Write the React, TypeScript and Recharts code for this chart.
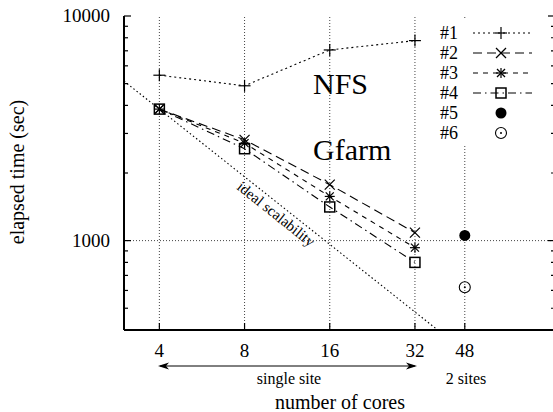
import React from 'react';
import { ComposedChart, Line, XAxis, YAxis, ReferenceLine, Legend, Customized } from 'recharts';

// number of cores on the x axis (log2 spaced)
const coreTicks = [4, 8, 16, 32, 48];
const singleSiteCores = [4, 8, 16, 32];
const twoSiteCores = [48];

// elapsed time (sec)
const nfsTimes = [5450, 4890, 7060, 7770];
const run2Times = [3850, 2810, 1775, 1085];
const run3Times = [3850, 2715, 1573, 930];
const run4Times = [3850, 2565, 1412, 800];
const run5Times = [1055];
const run6Times = [620];

// ideal scalability line
const idealCores = [3, 38.5];
const idealTimes = [5130, 400];

const timeTicks = [500, 600, 700, 800, 900, 1000, 2000, 3000, 4000, 5000, 6000, 7000, 8000, 9000, 10000];
const labelledTimes = [1000, 10000];

const FONT = '"Liberation Serif", "Times New Roman", serif';

type Shape = 'plus' | 'cross' | 'star' | 'square' | 'disc' | 'circleDot';

const series: { name: string; cores: number[]; times: number[]; dash: string | null; shape: Shape }[] = [
    { name: '#1', cores: singleSiteCores, times: nfsTimes, dash: '2 3', shape: 'plus' },
    { name: '#2', cores: singleSiteCores, times: run2Times, dash: '9 5', shape: 'cross' },
    { name: '#3', cores: singleSiteCores, times: run3Times, dash: '5 5', shape: 'star' },
    { name: '#4', cores: singleSiteCores, times: run4Times, dash: '8 4 1.5 4', shape: 'square' },
    { name: '#5', cores: twoSiteCores, times: run5Times, dash: null, shape: 'disc' },
    { name: '#6', cores: twoSiteCores, times: run6Times, dash: null, shape: 'circleDot' },
];

const toRows = (cores: number[], times: number[]) => cores.map((c, i) => ({ cores: c, time: times[i] }));

function Marker({ cx, cy, shape }: { cx: number; cy: number; shape: Shape }) {
    const s = 5;
    const st = { stroke: '#000', strokeWidth: 1.2 };
    switch (shape) {
        case 'plus':
            return <g><line x1={cx - s - 1} x2={cx + s + 1} y1={cy} y2={cy} {...st} /><line x1={cx} x2={cx} y1={cy - s - 1} y2={cy + s + 1} {...st} /></g>;
        case 'cross':
            return <g><line x1={cx - s} x2={cx + s} y1={cy - s} y2={cy + s} {...st} /><line x1={cx - s} x2={cx + s} y1={cy + s} y2={cy - s} {...st} /></g>;
        case 'star':
            return (
                <g>
                    <line x1={cx - s} x2={cx + s} y1={cy} y2={cy} {...st} />
                    <line x1={cx} x2={cx} y1={cy - s} y2={cy + s} {...st} />
                    <line x1={cx - 4} x2={cx + 4} y1={cy - 4} y2={cy + 4} {...st} />
                    <line x1={cx - 4} x2={cx + 4} y1={cy + 4} y2={cy - 4} {...st} />
                </g>
            );
        case 'square':
            return <rect x={cx - s} y={cy - s} width={2 * s} height={2 * s} fill="none" stroke="#000" strokeWidth={1.5} />;
        case 'disc':
            return <circle cx={cx} cy={cy} r={5.5} fill="#000" />;
        default:
            return <g><circle cx={cx} cy={cy} r={5.5} fill="none" stroke="#000" strokeWidth={1.1} /><circle cx={cx} cy={cy} r={1} fill="#000" /></g>;
    }
}

function LeftTick({ x, y, payload }: any) {
    const major = labelledTimes.includes(payload.value);
    return (
        <g>
            <line x1={x} x2={x + (major ? 7 : 4)} y1={y} y2={y} stroke="#000" strokeWidth={1.2} />
            {major && (
                <text x={x - 14} y={y} dy={6} textAnchor="end" fontFamily={FONT} fontSize={19} fill="#000">
                    {payload.value}
                </text>
            )}
        </g>
    );
}

function RightTick({ x, y, payload }: any) {
    const major = labelledTimes.includes(payload.value);
    return <line x1={x} x2={x - (major ? 7 : 4)} y1={y} y2={y} stroke="#000" strokeWidth={1.2} />;
}

function BottomTick({ x, y, payload }: any) {
    return (
        <g>
            <line x1={x} x2={x} y1={y} y2={y - 7} stroke="#000" strokeWidth={1.2} />
            <text x={x} y={y + 27} textAnchor="middle" fontFamily={FONT} fontSize={19} fill="#000">
                {payload.value}
            </text>
        </g>
    );
}

function TopTick({ x, y }: any) {
    return <line x1={x} x2={x} y1={y} y2={y + 7} stroke="#000" strokeWidth={1.2} />;
}

function LegendBox() {
    return (
        <svg width={118} height={124} style={{ display: 'block' }}>
            <rect width={118} height={124} fill="#fff" />
            {series.map((s, i) => {
                const y = 13 + 20 * i;
                return (
                    <g key={s.name}>
                        <text x={8} y={y + 6} fontFamily={FONT} fontSize={18} fill="#000">{s.name}</text>
                        {s.dash && <line x1={41} x2={100} y1={y} y2={y} stroke="#000" strokeWidth={1.1} strokeDasharray={s.dash} />}
                        <Marker cx={69} cy={y} shape={s.shape} />
                    </g>
                );
            })}
        </svg>
    );
}

function Annotations() {
    return (
        <g fontFamily={FONT} fill="#000">
            <text x={313} y={94} fontSize={30}>NFS</text>
            <text x={313} y={160} fontSize={30}>Gfarm</text>
            <text transform="translate(276,214) rotate(38.5)" textAnchor="middle" dy={5} fontSize={15}>ideal scalability</text>
            <line x1={160} x2={415} y1={366} y2={366} stroke="#000" strokeWidth={1} />
            <path d="M158 366 L169 362.5 L166 366 L169 369.5 Z" fill="#000" />
            <path d="M417 366 L406 362.5 L409 366 L406 369.5 Z" fill="#000" />
            <text x={289} y={384} textAnchor="middle" fontSize={16}>single site</text>
            <text x={466} y={384} textAnchor="middle" fontSize={16}>2 sites</text>
            <text x={340} y={409} textAnchor="middle" fontSize={20}>number of cores</text>
            <text transform="translate(24,172) rotate(-90)" textAnchor="middle" fontSize={20}>elapsed time (sec)</text>
        </g>
    );
}

export default function App() {
    const axisLine = { stroke: '#000', strokeWidth: 2 };
    return (
        <div style={{ position: 'absolute', left: 0, top: 0, width: 553, height: 412, overflow: 'hidden', background: '#fff' }}>
            <ComposedChart width={560} height={412} margin={{ top: 16, right: 0, bottom: 52, left: 0 }}>
                <XAxis
                    xAxisId="bottom" dataKey="cores" type="number" scale="log" domain={[3, 100]} allowDataOverflow
                    ticks={coreTicks} interval={0} tickSize={0} tickMargin={0} tickLine={false}
                    axisLine={axisLine} tick={<BottomTick />} height={30}
                />
                <XAxis
                    xAxisId="top" orientation="top" dataKey="cores" type="number" scale="log" domain={[3, 100]} allowDataOverflow
                    ticks={coreTicks} interval={0} tickSize={0} tickMargin={0} tickLine={false}
                    axisLine={axisLine} tick={<TopTick />} height={0}
                />
                <YAxis
                    yAxisId="left" type="number" scale="log" domain={[400, 10000]} allowDataOverflow
                    ticks={timeTicks} interval={0} tickSize={0} tickMargin={0} tickLine={false}
                    axisLine={axisLine} tick={<LeftTick />} width={124}
                />
                <YAxis
                    yAxisId="right" orientation="right" type="number" scale="log" domain={[400, 10000]} allowDataOverflow
                    ticks={timeTicks} interval={0} tickSize={0} tickMargin={0} tickLine={false}
                    axisLine={axisLine} tick={<RightTick />} width={5}
                />
                {coreTicks.map(c => (
                    <ReferenceLine key={c} xAxisId="bottom" yAxisId="left" x={c} stroke="#444" strokeDasharray="1 2" />
                ))}
                <ReferenceLine xAxisId="bottom" yAxisId="left" y={1000} stroke="#444" strokeDasharray="1 2" />
                <Line
                    xAxisId="bottom" yAxisId="left" data={toRows(idealCores, idealTimes)} dataKey="time"
                    stroke="#000" strokeWidth={1.1} strokeDasharray="1.5 2.5" dot={false} activeDot={false}
                    isAnimationActive={false} legendType="none"
                />
                {series.map(s => (
                    <Line
                        key={s.name} name={s.name} xAxisId="bottom" yAxisId="left"
                        data={toRows(s.cores, s.times)} dataKey="time"
                        stroke={s.dash ? '#000' : 'none'} strokeWidth={1.1} strokeDasharray={s.dash ?? undefined}
                        dot={(p: any) => <Marker key={`${s.name}-${p.index}`} cx={p.cx} cy={p.cy} shape={s.shape} />}
                        activeDot={false} isAnimationActive={false}
                    />
                ))}
                <Legend
                    layout="horizontal" verticalAlign="middle" align="center"
                    wrapperStyle={{ position: 'absolute', left: 432, top: 20, width: 118, height: 124 }}
                    content={() => <LegendBox />}
                />
                <Customized component={<Annotations />} />
            </ComposedChart>
        </div>
    );
}
